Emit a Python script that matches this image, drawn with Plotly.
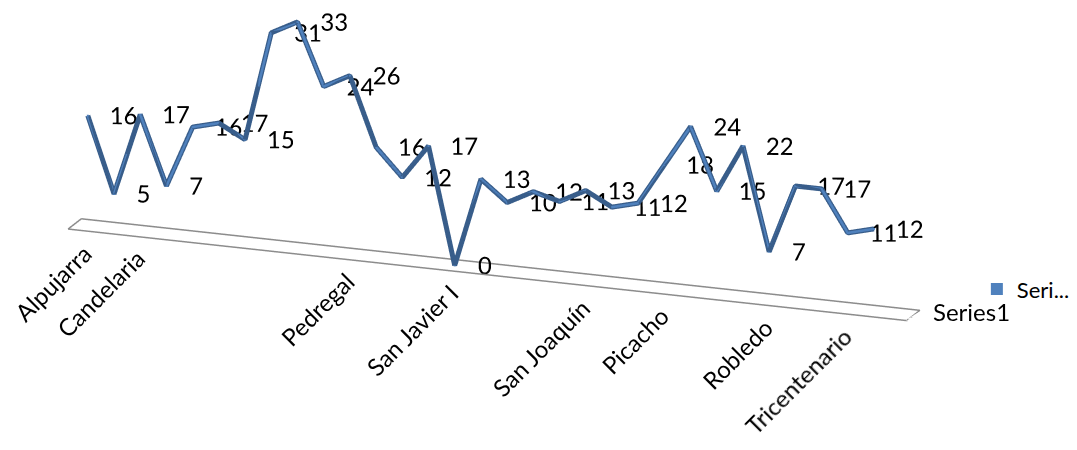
import plotly.graph_objects as go

# ---- data ----
values = [16, 5, 17, 7, 16, 17, 15, 31, 33, 24, 26, 16, 12, 17, 0, 13, 10, 12, 11, 13,
          11, 12, 18, 24, 15, 22, 7, 17, 17, 11, 12]
positions = list(range(len(values)))
tick_positions = [0, 2, 10, 14, 19, 22, 26, 29]
tick_labels = ["Alpujarra", "Candelaria", "Pedregal", "San Javier I", "San Joaquín",
               "Picacho", "Robledo", "Tricentenario"]
series_name = "Series1"
legend_label = "Seri..."

FONT = "Lato"
FS = 24
BLUE = "#4F81BD"
DARK = "#385D8A"
GRAY = "#8C8C8C"

x_min, x_max = -0.5, len(values) + 0.5
y_min, y_max = -0.5, 0.5

fig = go.Figure()

# floor outline
fig.add_trace(go.Scatter3d(
    x=[x_min, x_max, x_max, x_min, x_min],
    y=[y_min, y_min, y_max, y_max, y_min],
    z=[0, 0, 0, 0, 0],
    mode="lines", line=dict(color=GRAY, width=3),
    showlegend=False, hoverinfo="skip"))

# line (ribbon look)
fig.add_trace(go.Scatter3d(
    x=positions, y=[0] * len(values), z=values,
    mode="lines", line=dict(color=DARK, width=10),
    showlegend=False, hoverinfo="skip"))
fig.add_trace(go.Scatter3d(
    x=positions, y=[0] * len(values), z=values,
    mode="lines+text", line=dict(color=BLUE, width=5),
    text=[str(v) for v in values], textposition="middle right",
    textfont=dict(family=FONT, size=FS, color="black"),
    showlegend=False, hoverinfo="skip"))

# legend entry
fig.add_trace(go.Scatter3d(
    x=positions, y=[0] * len(values), z=values,
    mode="markers", marker=dict(symbol="square", size=1, color=BLUE),
    name=legend_label, showlegend=True, hoverinfo="skip"))

annotations = []
for p, lab in zip(tick_positions, tick_labels):
    annotations.append(dict(
        x=p, y=y_min, z=0, text=lab, textangle=-45, showarrow=False,
        xanchor="right", yanchor="top", yshift=-5, xshift=19,
        font=dict(family=FONT, size=FS, color="black")))
annotations.append(dict(
    x=x_max, y=0, z=0, text=series_name, showarrow=False,
    xanchor="left", xshift=18, yshift=4,
    font=dict(family=FONT, size=FS, color="black")))

ax = dict(visible=False, showgrid=False, zeroline=False, showline=False,
          showticklabels=False, showbackground=False, showspikes=False, title="")

d = 2.87
e = (0.375, -1.0, 0.325)
n = (e[0] ** 2 + e[1] ** 2 + e[2] ** 2) ** 0.5
c = (0.260, -0.029, -0.351)
k = 1.115

fig.update_layout(
    width=1077, height=450,
    margin=dict(l=0, r=0, t=0, b=0),
    paper_bgcolor="white",
    font=dict(family=FONT, size=FS, color="black"),
    showlegend=True,
    legend=dict(x=0.8996, y=0.375, xanchor="left", yanchor="middle",
                itemsizing="constant", itemwidth=30,
                font=dict(family=FONT, size=22)),
    scene=dict(
        domain=dict(x=[0, 1], y=[0, 1]),
        xaxis=dict(ax, range=[x_min, x_max]),
        yaxis=dict(ax, range=[y_min, y_max]),
        zaxis=dict(ax, range=[0, 35]),
        aspectmode="manual",
        aspectratio=dict(x=3.57 * k, y=0.15 * k, z=1 * k),
        camera=dict(
            eye=dict(x=c[0] + e[0] / n * d, y=c[1] + e[1] / n * d, z=c[2] + e[2] / n * d),
            center=dict(x=c[0], y=c[1], z=c[2]),
            up=dict(x=0, y=0, z=1),
            projection=dict(type="orthographic")),
        annotations=annotations,
    ),
)

fig.write_html("out.html")
